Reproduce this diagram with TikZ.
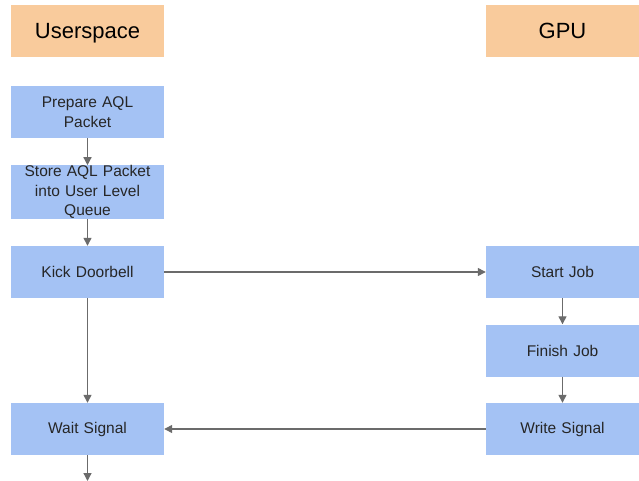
\documentclass[tikz,border=0pt]{standalone}
\usepackage{fontspec}
\setmainfont{Liberation Sans}
\usetikzlibrary{arrows.meta}
\definecolor{headorange}{HTML}{F9CB9C}
\definecolor{stepblue}{HTML}{A4C2F4}
\definecolor{linegray}{HTML}{6B6B6B}
\tikzset{
  head/.style={fill=headorange, minimum width=153pt, minimum height=52pt, inner sep=0pt,
    text height=15pt, text depth=0pt, font=\fontsize{22}{26}\selectfont},
  stepbox/.style={fill=stepblue, minimum width=153pt, minimum height=52pt, inner sep=0pt,
    align=center, text width=152pt, font=\fontsize{15.5}{19.5}\selectfont, text=black!85},
  flow/.style={draw=linegray, line width=1.3pt, -{Triangle[length=8pt,width=8pt]}}
}
\begin{document}
\begin{tikzpicture}[x=1pt, y=-1pt]
\useasboundingbox (0,0) rectangle (639,481);
% headers
\node[head] (user) at (87.5,31) {Userspace};
\node[head] (gpu) at (562.5,31) {GPU};

% userspace side
\node[stepbox] (prep) at (87.5,112) {Prepare AQL\\Packet};
\node[stepbox] (store) at (87.5,192) {Store AQL Packet\\into User Level\\Queue};
\node[stepbox] (kick) at (87.5,272) {Kick Doorbell};
\node[stepbox] (wait) at (87.5,429) {Wait Signal};
\coordinate (out) at (87.5,481);

% gpu side
\node[stepbox] (start) at (562.5,272) {Start Job};
\node[stepbox] (finish) at (562.5,350.5) {Finish Job};
\node[stepbox] (write) at (562.5,429) {Write Signal};

% arrows
\draw[flow] (prep) -- (store);
\draw[flow] (store) -- (kick);
\draw[flow] (kick) -- (wait);
\draw[flow] (wait) -- (out);
\draw[flow] (kick) -- (start);
\draw[flow] (start) -- (finish);
\draw[flow] (finish) -- (write);
\draw[flow] (write) -- (wait);
\end{tikzpicture}
\end{document}
